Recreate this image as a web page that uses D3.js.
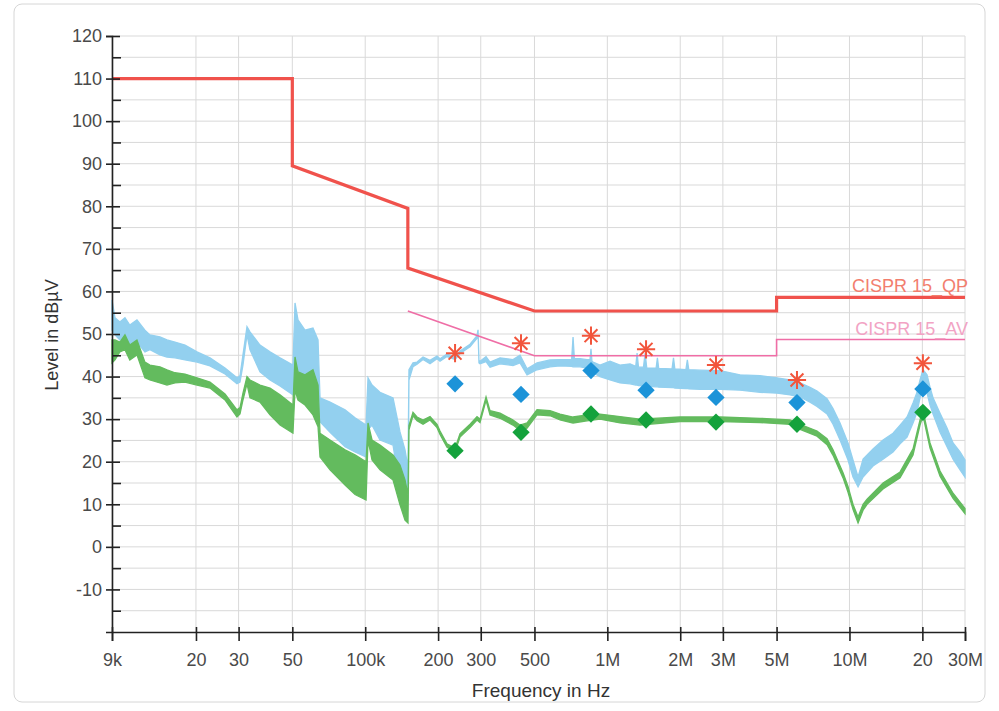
<!DOCTYPE html>
<html>
<head>
<meta charset="UTF-8">
<script src="https://d3js.org/d3.v7.min.js"></script>
<style>
body { margin:0; background:#fff; }
.grid line { stroke:#d9d9d9; stroke-width:1; }
</style>
</head>
<body>
<script>
// ---- data ----
const xTicks = [9e3, 20e3, 30e3, 50e3, 100e3, 200e3, 300e3, 500e3, 1e6, 2e6, 3e6, 5e6, 10e6, 20e6, 30e6];
const xTickLabels = ["9k", "20", "30", "50", "100k", "200", "300", "500", "1M", "2M", "3M", "5M", "10M", "20", "30M"];
const yTicks = [-10, 0, 10, 20, 30, 40, 50, 60, 70, 80, 90, 100, 110, 120];
const yMinorTicks = [-15, -5, 5, 15, 25, 35, 45, 55, 65, 75, 85, 95, 105, 115];

// limit lines [freq Hz, dBµV]
const qpLimit = [[9e3,110],[50e3,110],[50e3,89.5],[150e3,79.5],[150e3,65.5],[500e3,55.4],[5e6,55.4],[5e6,58.6],[30e6,58.6]];
const avLimit = [[150e3,55.4],[500e3,44.9],[5e6,44.9],[5e6,48.7],[30e6,48.7]];

// traces [freq Hz, upper dBµV, lower dBµV]
const peakTrace = [
  [9000,58.0,50.9],[9260,53.8,49.8],[9700,52.8,48.6],[10180,53.8,49.1],[10660,52.1,47.4],[11410,53.3,48.1],
  [12310,50.9,45.8],[12910,49.8,46.3],[14200,49.3,45.1],[15180,48.6,44.6],[16380,48.1,44.4],[18020,47.4,43.9],
  [20200,45.8,43.4],[22850,44.4,42.5],[26360,42.0,40.6],[29540,39.7,38.3],[30400,40.2,38.7],[31270,45.1,42.7],
  [32490,51.7,49.8],[33430,50.5,46.3],[36770,47.4,41.1],[40440,45.8,39.2],[44480,44.4,37.8],[50310,42.7,35.7],
  [51290,57.3,39.2],[52780,53.3,41.1],[56410,50.9,38.5],[60850,51.4,35.7],[63850,48.6,34.5],[65070,35.0,29.4],
  [71560,34.0,26.9],[82530,32.2,23.5],[90770,30.3,22.3],[100800,28.6,21.1],[102700,39.7,27.5],[106700,38.0,28.6],
  [115100,36.3,25.1],[130300,35.0,23.9],[139200,27.0,13.4],[146000,22.8,11.0],[150200,18.6,11.0],
  [151600,41.6,39.2],[157500,43.2,42.3],[163700,43.4,42.9],[173300,44.6,44.0],[185200,43.8,43.0],[198000,44.8,44.2],
  [203700,44.2,43.6],[217700,45.3,44.7],[235000,44.6,44.0],[246400,46.0,45.4],[271000,47.6,47.0],[289600,49.6,49.0],
  [292400,51.0,50.5],[295000,43.8,43.2],[298000,43.6,43.0],[315500,44.7,43.5],[327700,43.4,42.2],[360500,44.4,43.0],
  [407800,44.0,42.6],[435900,45.0,43.2],[466000,41.8,40.4],[512400,43.2,41.6],[580000,43.9,42.3],[637600,44.0,42.5],
  [712000,44.0,42.4],[721700,49.3,42.3],[731000,44.2,42.3],[771400,44.2,42.3],[824400,44.0,42.0],[848000,44.0,42.0],
  [856000,46.5,42.0],[864000,43.6,41.2],[872900,43.4,40.9],[932800,42.7,40.0],[1026000,43.6,39.2],[1128000,42.7,38.5],
  [1241000,43.0,38.3],[1310000,42.4,38.0],[1327000,45.5,38.0],[1345000,42.2,37.9],[1410000,42.2,37.8],[1432000,45.5,37.8],
  [1455000,42.0,37.7],[1590000,42.0,37.6],[1610000,44.4,37.6],[1630000,41.9,37.5],[1850000,41.8,37.4],[1876000,44.4,37.4],
  [1900000,41.8,37.3],[2110000,41.6,37.2],[2140000,43.9,37.2],[2170000,41.6,37.1],[2414000,41.5,37.0],
  [2920000,41.4,37.0],[3532000,40.4,36.8],[4272000,40.2,36.3],[5021000,39.7,36.1],[5683000,39.2,35.7],[6250000,38.5,35.2],
  [6872000,37.5,34.0],[7345000,36.6,33.0],[8079000,34.8,31.2],[8552000,32.5,28.8],[9142000,29.1,25.1],[9863000,24.4,20.4],
  [10340000,20.4,16.4],[10850000,16.4,14.1],[11380000,20.6,16.4],[12510000,23.0,19.0],[13760000,25.1,20.6],
  [15130000,26.7,22.3],[16180000,28.6,24.2],[17290000,30.5,25.8],[18300000,33.8,29.1],[19010000,36.3,31.6],
  [19560000,39.2,35.0],[20120000,41.6,39.2],[20910000,40.4,36.1],[21510000,37.5,33.3],[22140000,35.0,31.2],
  [23660000,31.4,26.9],[25290000,27.9,23.5],[26780000,24.4,20.6],[28620000,22.3,18.1],[30000000,20.4,16.4]
];
const avgTrace = [
  [9000,48.6,43.2],[9260,48.6,43.9],[9700,48.1,45.8],[10180,49.8,46.3],[10660,47.4,43.9],[11410,48.6,45.1],
  [12310,43.4,39.7],[12910,42.7,39.2],[14200,42.3,38.5],[15180,41.6,38.0],[16380,40.9,38.5],[18020,40.6,38.7],
  [20200,39.7,38.0],[22850,38.7,37.3],[26360,35.9,34.5],[29540,32.2,30.5],[30400,32.7,31.2],[31270,36.1,34.5],
  [32490,40.0,38.3],[33430,39.2,35.0],[36770,38.0,34.0],[40440,37.3,31.0],[44480,35.7,28.6],[50310,33.3,26.7],
  [51290,44.6,36.8],[52780,41.1,34.5],[56410,40.4,33.3],[60850,41.6,31.0],[63850,38.0,28.2],[65070,26.7,21.1],
  [71560,25.1,18.1],[82530,22.8,14.5],[90770,21.6,12.3],[100800,20.0,11.0],[102700,29.1,25.1],[106700,25.1,20.4],
  [115100,23.9,18.1],[130300,21.6,15.7],[139200,19.2,9.9],[146000,15.7,6.3],[150200,12.2,5.6],
  [151600,28.5,27.5],[157500,31.6,30.8],[163700,30.5,29.6],[173300,29.8,28.8],[185200,30.6,29.8],[198000,28.8,28.0],
  [203700,27.2,26.4],[217700,24.2,23.4],[235000,23.2,22.4],[246400,26.6,25.8],[271000,28.8,28.0],[289600,30.6,29.8],
  [298000,30.0,29.2],[315500,35.2,34.4],[327700,32.0,31.0],[360500,31.4,30.2],[407800,29.8,28.6],[435900,28.6,27.3],
  [466000,29.1,27.9],[512400,32.2,31.0],[580000,32.0,30.8],[637600,31.2,29.8],[721700,30.5,29.1],[824400,31.0,29.6],
  [932800,31.2,30.0],[1128000,30.6,29.1],[1365000,30.0,28.6],[1996000,30.5,29.4],[2920000,30.5,29.4],[4272000,30.2,29.2],
  [5683000,29.8,28.8],[6250000,28.8,27.6],[7345000,27.2,26.0],[8079000,25.4,24.0],[8552000,22.8,21.5],[9406000,17.4,16.2],
  [9863000,14.2,12.8],[10340000,10.0,8.8],[10850000,7.0,5.6],[11380000,10.0,8.6],[11820000,11.2,10.0],[13760000,15.0,13.6],
  [16180000,17.6,16.2],[18300000,23.0,21.6],[19560000,29.8,28.6],[20120000,32.0,30.8],[21510000,24.4,23.2],
  [23660000,17.8,16.6],[26780000,12.6,11.4],[30000000,9.0,7.8]
];

// final measurement points
const markFreq = [235e3, 440e3, 856e3, 1.445e6, 2.81e6, 6.07e6, 20.1e6];
const markPeak = [45.5, 47.8, 49.6, 46.4, 42.7, 39.2, 43.1];
const markQP = [38.3, 35.8, 41.4, 36.8, 35.1, 33.9, 37.1];
const markAV = [22.6, 26.9, 31.2, 29.8, 29.3, 28.8, 31.6];

const limitNames = ["CISPR 15_QP", "CISPR 15_AV"];

// ---- drawing ----
const font = '"Liberation Sans", Arial, sans-serif';
const svg = d3.select("body").append("svg")
    .attr("width", 999)
    .attr("height", 711);

svg.append("rect")
    .attr("x", 14).attr("y", 4).attr("width", 971).attr("height", 698)
    .attr("rx", 8)
    .attr("fill", "#fff").attr("stroke", "#d6d6d6");

const x = d3.scaleLog().domain([9e3, 30e6]).range([112, 965]);
const y = d3.scaleLinear().domain([-20, 120]).range([632, 36]);

// grid
const grid = svg.append("g").classed("grid", true);
grid.selectAll(".v").data(xTicks).join("line")
    .attr("x1", d => x(d)).attr("x2", d => x(d))
    .attr("y1", y(120)).attr("y2", y(-20));
grid.selectAll(".h").data(yTicks.concat(yMinorTicks)).join("line")
    .attr("x1", x(9e3)).attr("x2", x(30e6))
    .attr("y1", d => y(d)).attr("y2", d => y(d));

// traces as bands
const band = d3.area()
    .x(d => x(d[0]))
    .y0(d => y(d[2]))
    .y1(d => y(d[1]));
svg.append("path").datum(peakTrace)
    .attr("d", band)
    .attr("fill", "#93d0ef").attr("stroke", "#93d0ef").attr("stroke-width", 1.3);
svg.append("path").datum(avgTrace)
    .attr("d", band)
    .attr("fill", "#63bb5e").attr("stroke", "#63bb5e").attr("stroke-width", 1.3);

// limits
const line = d3.line().x(d => x(d[0])).y(d => y(d[1]));
svg.append("path").datum(qpLimit)
    .attr("d", line).attr("fill", "none")
    .attr("stroke", "#f0524c").attr("stroke-width", 3.2);
svg.append("path").datum(avLimit)
    .attr("d", line).attr("fill", "none")
    .attr("stroke", "#ef6ea6").attr("stroke-width", 1.6);

svg.append("text").text(limitNames[0])
    .attr("x", 968).attr("y", y(58.6) - 5)
    .attr("text-anchor", "end").attr("font-family", font).attr("font-size", 18)
    .attr("fill", "#f27e6e");
svg.append("text").text(limitNames[1])
    .attr("x", 968).attr("y", y(48.7) - 5)
    .attr("text-anchor", "end").attr("font-family", font).attr("font-size", 18)
    .attr("fill", "#f2a3c4");

// markers
const star = svg.append("g");
[d3.symbolPlus, d3.symbolTimes].forEach(s => {
    star.selectAll(null).data(markFreq).join("path")
        .attr("d", d3.symbol(s, 110))
        .attr("transform", (d, i) => `translate(${x(d)},${y(markPeak[i])})`)
        .attr("fill", "none").attr("stroke", "#f2553c").attr("stroke-width", 2);
});
const diamond = d3.symbol(d3.symbolSquare, 150);
svg.append("g").selectAll("path").data(markFreq).join("path")
    .attr("d", diamond)
    .attr("transform", (d, i) => `translate(${x(d)},${y(markQP[i])}) rotate(45)`)
    .attr("fill", "#1c93d8");
svg.append("g").selectAll("path").data(markFreq).join("path")
    .attr("d", diamond)
    .attr("transform", (d, i) => `translate(${x(d)},${y(markAV[i])}) rotate(45)`)
    .attr("fill", "#14a23c");

// axes
const axisY = d3.axisLeft(y).tickValues(yTicks).tickFormat(d => String(d))
    .tickSizeOuter(0).tickSize(6).tickPadding(4);
const gY = svg.append("g").attr("transform", `translate(${x(9e3)},0)`);
axisY(gY);
gY.selectAll(".tick line").attr("x1", 8).attr("x2", -6);
const gYm = svg.append("g").attr("transform", `translate(${x(9e3)},0)`);
d3.axisRight(y).tickValues(yMinorTicks).tickSize(9).tickFormat("")(gYm);
gYm.select(".domain").remove();

const axisX = d3.axisBottom(x).tickValues(xTicks)
    .tickFormat((d, i) => xTickLabels[i]).tickSizeOuter(0).tickSize(9).tickPadding(12);
const gX = svg.append("g").attr("transform", `translate(0,${y(-20)})`);
axisX(gX);
gX.selectAll(".tick line").attr("y1", -5);

[gY, gX, gYm].forEach(g => {
    g.selectAll(".domain").attr("stroke", "#222").attr("stroke-width", 1.6);
    g.selectAll(".tick line").attr("stroke", "#222").attr("stroke-width", 1.6);
    g.selectAll("text").attr("font-family", font).attr("font-size", 18).attr("fill", "#4a4a4a");
});

svg.append("text").text("Frequency in Hz")
    .attr("x", 541).attr("y", 697)
    .attr("text-anchor", "middle").attr("font-family", font).attr("font-size", 19)
    .attr("fill", "#333");
svg.append("text").text("Level in dBµV")
    .attr("transform", "translate(58,335) rotate(-90)")
    .attr("text-anchor", "middle").attr("font-family", font).attr("font-size", 18)
    .attr("fill", "#333");
</script>
</body>
</html>
